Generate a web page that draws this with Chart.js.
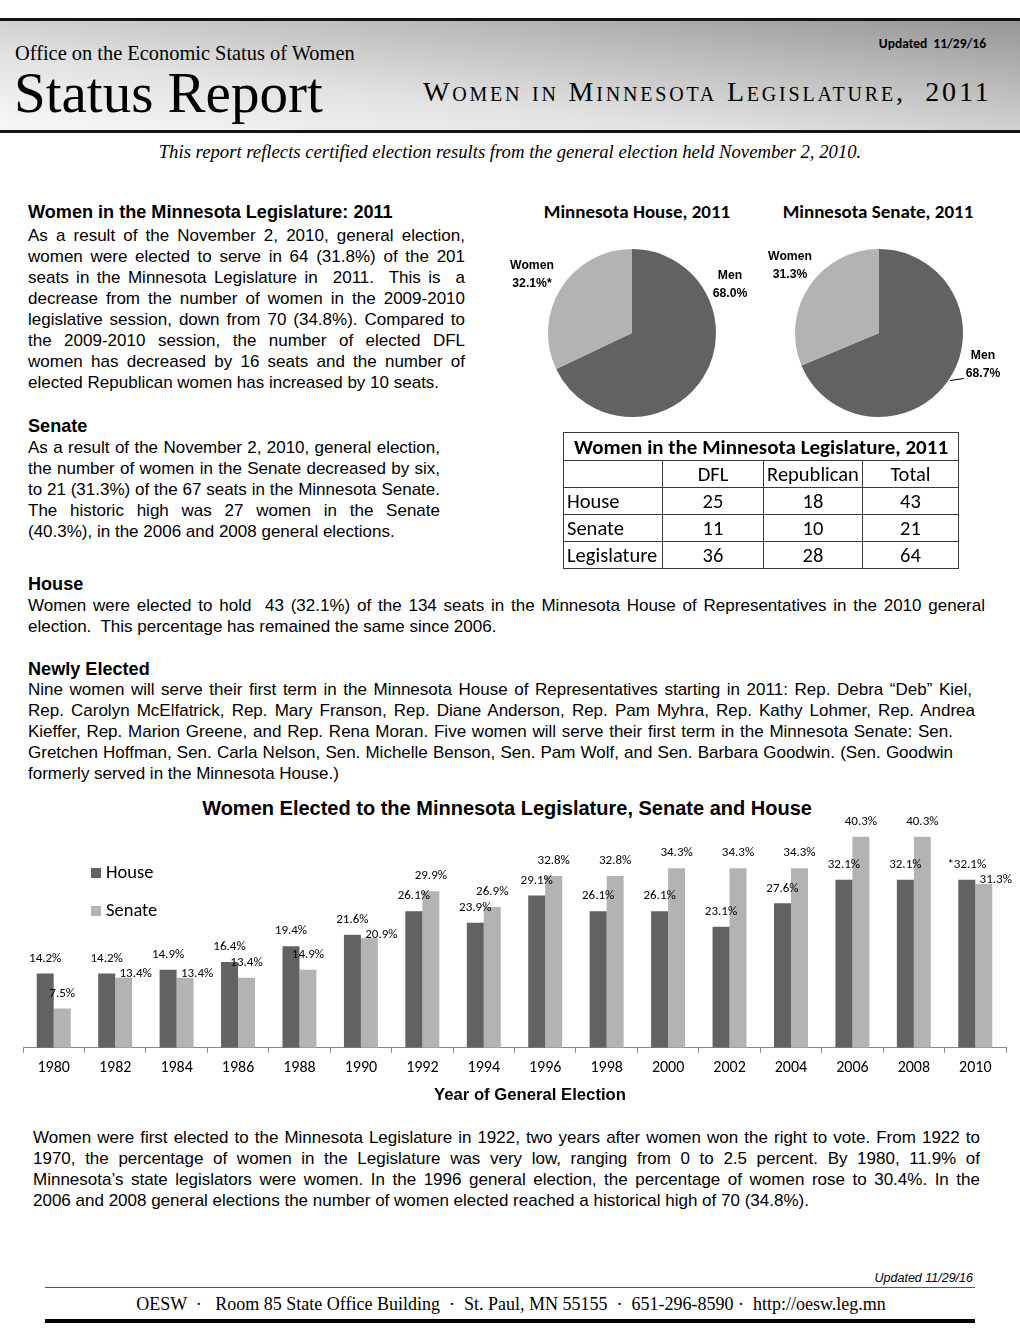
<!DOCTYPE html>
<html>
<head>
<meta charset="utf-8">
<script src="https://cdn.jsdelivr.net/npm/chart.js"></script>
<style>
  body { margin: 0; background: #fff; }
  #page { position: relative; width: 1020px; height: 1343px; overflow: hidden; font-family: "Liberation Sans", Arial, sans-serif; color: #000; }
  .abs { position: absolute; }
  .serif { font-family: "Liberation Serif", "Times New Roman", serif; white-space: nowrap; }
  .band { left: 0; top: 18px; width: 1020px; height: 115px; box-sizing: border-box; border-top: 3px solid #141414; border-bottom: 3px solid #141414;
    background: linear-gradient(to top right, #f8f8f8 0%, #e2e2e2 35%, #bababa 70%, #969696 100%); }
  .head { font-weight: bold; font-size: 18.1px; line-height: 21px; white-space: nowrap; }
  .body { font-size: 17px; line-height: 21px; }
  .body div { text-align: justify; text-align-last: justify; }
  .body div.last { text-align: left; text-align-last: left; white-space: nowrap; }
  .calibri { font-family: Carlito, Lato, "Open Sans", sans-serif; }
  .pielab { font-weight: bold; font-size: 12.2px; line-height: 18px; text-align: center; width: 80px; }
  table.seats { border-collapse: collapse; table-layout: fixed; font-size: 20.5px; }
  table.seats td { border: 1px solid #3a3a3a; padding: 0 3px; height: 26px; text-align: center; line-height: 22px; white-space: nowrap; }
  table.seats td.rowname { text-align: left; }
</style>
</head>
<body>
<div id="page">
  <div class="abs band"></div>
  <div class="abs serif" style="left:15px; top:43px; font-size:20.4px; line-height:20.4px;">Office on the Economic Status of Women</div>
  <div class="abs serif" style="left:14px; top:64px; font-size:57px; line-height:57px;">Status Report</div>
  <div class="abs serif" style="left:423px; top:78px; font-size:28px; line-height:28px; font-variant:small-caps; letter-spacing:2.8px;">Women in Minnesota Legislature,&nbsp; 2011</div>
  <div class="abs calibri" style="right:34px; top:35px; font-size:13.5px; font-weight:bold; white-space:nowrap;">Updated&nbsp; 11/29/16</div>
  <div class="abs serif" style="left:0; width:1020px; top:143px; font-size:18.7px; line-height:18.7px; font-style:italic; text-align:center;">This report reflects certified election results from the general election held November 2, 2010.</div>

  <div class="abs head" style="left:28px; top:202px;">Women in the Minnesota Legislature: 2011</div>
  <div class="abs body" style="left:28px; top:225px; width:437px;">
    <div>As a result of the November 2, 2010, general election,</div>
    <div>women were elected to serve in 64 (31.8%) of the 201</div>
    <div>seats in the Minnesota Legislature in&nbsp; 2011.&nbsp; This is&nbsp; a</div>
    <div>decrease from the number of women in the 2009-2010</div>
    <div>legislative session, down from 70 (34.8%). Compared to</div>
    <div>the 2009-2010 session, the number of elected DFL</div>
    <div>women has decreased by 16 seats and the number of</div>
    <div class="last">elected Republican women has increased by 10 seats.</div>
  </div>

  <div class="abs head" style="left:28px; top:416px;">Senate</div>
  <div class="abs body" style="left:28px; top:437px; width:412px;">
    <div>As a result of the November 2, 2010, general election,</div>
    <div>the number of women in the Senate decreased by six,</div>
    <div>to 21 (31.3%) of the 67 seats in the Minnesota Senate.</div>
    <div>The historic high was 27 women in the Senate</div>
    <div class="last">(40.3%), in the 2006 and 2008 general elections.</div>
  </div>

  <div class="abs head" style="left:28px; top:574px;">House</div>
  <div class="abs body" style="left:28px; top:595px; width:957px;">
    <div>Women were elected to hold&nbsp; 43 (32.1%) of the 134 seats in the Minnesota House of Representatives in the 2010 general</div>
    <div class="last">election.&nbsp; This percentage has remained the same since 2006.</div>
  </div>

  <div class="abs head" style="left:28px; top:659px;">Newly Elected</div>
  <div class="abs body" style="left:28px; top:679px; width:957px;">
    <div style="width:944px;">Nine women will serve their first term in the Minnesota House of Representatives starting in 2011: Rep. Debra “Deb” Kiel,</div>
    <div style="width:947px;">Rep. Carolyn McElfatrick, Rep. Mary Franson, Rep. Diane Anderson, Rep. Pam Myhra, Rep. Kathy Lohmer, Rep. Andrea</div>
    <div style="width:925px;">Kieffer, Rep. Marion Greene, and Rep. Rena Moran. Five women will serve their first term in the Minnesota Senate: Sen.</div>
    <div style="width:925px;">Gretchen Hoffman, Sen. Carla Nelson, Sen. Michelle Benson, Sen. Pam Wolf, and Sen. Barbara Goodwin. (Sen. Goodwin</div>
    <div class="last">formerly served in the Minnesota House.)</div>
  </div>

  <div class="abs calibri" style="left:537px; width:200px; top:201px; font-size:19px; line-height:22px; font-weight:bold; text-align:center;">Minnesota House, 2011</div>
  <div class="abs calibri" style="left:778px; width:200px; top:201px; font-size:19px; line-height:22px; font-weight:bold; text-align:center;">Minnesota Senate, 2011</div>
  <canvas id="housePie" class="abs" width="200" height="200" style="left:532px; top:233px;"></canvas>
  <canvas id="senatePie" class="abs" width="200" height="200" style="left:779px; top:233px;"></canvas>
  <div id="houseWomenLab" class="abs pielab" style="left:492px; top:256px;"></div>
  <div id="houseMenLab" class="abs pielab" style="left:690px; top:266px;"></div>
  <div id="senateWomenLab" class="abs pielab" style="left:750px; top:247px;"></div>
  <div id="senateMenLab" class="abs pielab" style="left:943px; top:346px;"></div>
  <div class="abs" style="left:950px; top:379px; width:14px; height:1px; background:#000; transform:rotate(-8deg);"></div>

  <table class="abs seats calibri" style="left:563px; top:432px; width:395px;">
    <colgroup><col style="width:99px"><col style="width:101px"><col style="width:99px"><col style="width:96px"></colgroup>
    <tr><td colspan="4" style="font-weight:bold; font-size:21px; height:27px;">Women in the Minnesota Legislature, 2011</td></tr>
    <tr><td></td><td>DFL</td><td>Republican</td><td>Total</td></tr>
    <tbody id="seatRows"></tbody>
  </table>

  <div class="abs" style="left:0; width:1014px; top:797px; font-weight:bold; font-size:20px; line-height:22px; text-align:center; white-space:nowrap;">Women Elected to the Minnesota Legislature, Senate and House</div>
  <canvas id="electedChart" class="abs" width="1020" height="310" style="left:0; top:778px;"></canvas>
  <div class="abs" style="left:430px; width:200px; top:1084px; font-weight:bold; font-size:16.7px; line-height:21px; text-align:center; white-space:nowrap;">Year of General Election</div>

  <div class="abs body" style="left:33px; top:1127px; width:947px;">
    <div>Women were first elected to the Minnesota Legislature in 1922, two years after women won the right to vote. From 1922 to</div>
    <div>1970, the percentage of women in the Legislature was very low, ranging from 0 to 2.5 percent. By 1980, 11.9% of</div>
    <div>Minnesota’s state legislators were women. In the 1996 general election, the percentage of women rose to 30.4%. In the</div>
    <div class="last">2006 and 2008 general elections the number of women elected reached a historical high of 70 (34.8%).</div>
  </div>

  <div class="abs" style="right:47px; top:1271px; font-size:12.5px; font-style:italic; white-space:nowrap;">Updated 11/29/16</div>
  <div class="abs" style="left:45px; top:1287px; width:930px; height:1px; background:#555;"></div>
  <div class="abs serif" style="left:0; width:1022px; top:1295px; font-size:18px; line-height:18px; text-align:center;">OESW &nbsp;·&nbsp;&nbsp; Room 85 State Office Building &nbsp;·&nbsp; St. Paul, MN 55155 &nbsp;·&nbsp; 651-296-8590 · &nbsp;http://oesw.leg.mn</div>
  <div class="abs" style="left:45px; top:1319px; width:930px; height:4px; background:#000;"></div>
</div>

<script>
// bar chart data: share of seats held by women (%)
const years = ["1980", "1982", "1984", "1986", "1988", "1990", "1992", "1994", "1996", "1998", "2000", "2002", "2004", "2006", "2008", "2010"];
const houseShare = [14.2, 14.2, 14.9, 16.4, 19.4, 21.6, 26.1, 23.9, 29.1, 26.1, 26.1, 23.1, 27.6, 32.1, 32.1, 32.1];
const senateShare = [7.5, 13.4, 13.4, 13.4, 14.9, 20.9, 29.9, 26.9, 32.8, 32.8, 34.3, 34.3, 34.3, 40.3, 40.3, 31.3];
const footnoteYear = "2010";

// pie charts, 2011
const pieLabels = ["Men", "Women"];
const housePie = [68.0, 32.1];
const senatePie = [68.7, 31.3];

// seat table, 2011
const tableRows = ["House", "Senate", "Legislature"];
const dflSeats = [25, 11, 36];
const gopSeats = [18, 10, 28];
const totalSeats = [43, 21, 64];

const houseColor = "#626262";
const senateColor = "#b3b3b3";
const labelFont = "Carlito, Lato, sans-serif";

const rowsEl = document.getElementById("seatRows");
tableRows.forEach((name, i) => {
  const tr = document.createElement("tr");
  tr.innerHTML = `<td class="rowname">${name}</td><td>${dflSeats[i]}</td><td>${gopSeats[i]}</td><td>${totalSeats[i]}</td>`;
  rowsEl.appendChild(tr);
});

const pct = v => v.toFixed(1) + "%";
document.getElementById("houseWomenLab").innerHTML = `${pieLabels[1]}<br>${pct(housePie[1])}*`;
document.getElementById("houseMenLab").innerHTML = `${pieLabels[0]}<br>${pct(housePie[0])}`;
document.getElementById("senateWomenLab").innerHTML = `${pieLabels[1]}<br>${pct(senatePie[1])}`;
document.getElementById("senateMenLab").innerHTML = `${pieLabels[0]}<br>${pct(senatePie[0])}`;

let makePie = (id, values) => {
  return new Chart(document.getElementById(id), {
    type: "pie",
    data: {
      labels: pieLabels,
      datasets: [
        {
          data: values,
          backgroundColor: [houseColor, senateColor],
          borderWidth: 0,
          hoverOffset: 0
        }
      ]
    },
    options: {
      responsive: false,
      animation: false,
      layout: { padding: 16 },
      plugins: {
        legend: { display: false },
        tooltip: { enabled: false }
      }
    }
  });
};

makePie("housePie", housePie);
makePie("senatePie", senatePie);

// value labels above bars; a senate label that would collide with the
// house label next to it is nudged right and down, as in the original
const barLabels = {
  id: "barLabels",
  afterDatasetsDraw(chart) {
    const { ctx } = chart;
    const house = chart.getDatasetMeta(0).data;
    const senate = chart.getDatasetMeta(1).data;
    ctx.save();
    ctx.font = "13px " + labelFont;
    ctx.fillStyle = "#000";
    ctx.textAlign = "center";
    ctx.textBaseline = "middle";
    chart.data.labels.forEach((year, j) => {
      const h = house[j];
      const s = senate[j];
      let hText = pct(houseShare[j]);
      if (year === footnoteYear) hText = "*" + hText;
      ctx.fillText(hText, h.x, h.y - 15);
      if (Math.abs(h.y - s.y) < 10) {
        ctx.fillText(pct(senateShare[j]), s.x + 12, s.y - 4);
      } else {
        ctx.fillText(pct(senateShare[j]), s.x, s.y - 15);
      }
    });
    ctx.restore();
  }
};

// legend sits inside the plot, top left
const sideLegend = {
  id: "sideLegend",
  afterDraw(chart) {
    const { ctx, chartArea } = chart;
    ctx.save();
    ctx.font = "18.5px " + labelFont;
    ctx.textBaseline = "middle";
    chart.data.datasets.forEach((ds, i) => {
      const x = chartArea.left + 68;
      const y = chartArea.top + 87 + i * 38;
      ctx.fillStyle = ds.backgroundColor;
      ctx.fillRect(x, y - 5, 10, 10);
      ctx.fillStyle = "#000";
      ctx.fillText(ds.label, x + 15, y);
    });
    ctx.restore();
  }
};

const electedChart = new Chart(document.getElementById("electedChart"), {
  type: "bar",
  data: {
    labels: years,
    datasets: [
      {
        label: "House",
        data: houseShare,
        backgroundColor: houseColor,
        categoryPercentage: 0.553,
        barPercentage: 1
      },
      {
        label: "Senate",
        data: senateShare,
        backgroundColor: senateColor,
        categoryPercentage: 0.553,
        barPercentage: 1
      }
    ]
  },
  options: {
    responsive: false,
    animation: false,
    layout: {
      padding: { left: 23, right: 14, top: 8, bottom: 4 }
    },
    plugins: {
      legend: { display: false },
      tooltip: { enabled: false }
    },
    scales: {
      x: {
        grid: {
          display: true,
          drawOnChartArea: false,
          drawTicks: true,
          tickLength: 5,
          color: "#888",
          offset: true
        },
        border: { display: true, color: "#888" },
        ticks: {
          color: "#000",
          padding: 6,
          maxRotation: 0,
          font: { size: 16, family: labelFont }
        }
      },
      y: { display: false, min: 0, max: 50 }
    }
  },
  plugins: [barLabels, sideLegend]
});
</script>
</body>
</html>
